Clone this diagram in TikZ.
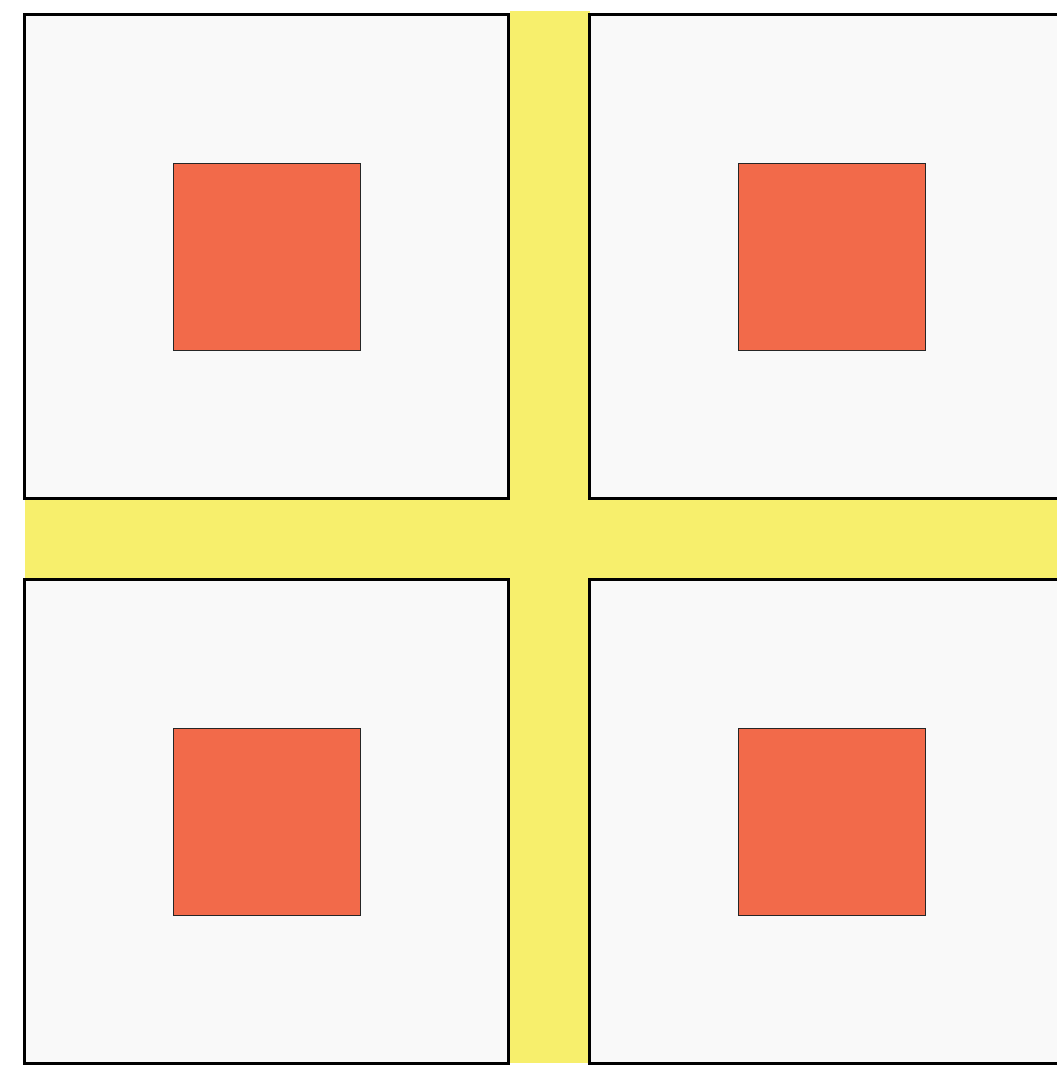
\documentclass[tikz,border=0pt]{standalone}
\definecolor{bandyellow}{HTML}{F7EF6C}
\definecolor{plotgray}{HTML}{F9F9F9}
\definecolor{coreorange}{HTML}{F26A4A}
\tikzset{
  plot/.style={fill=plotgray, draw=black, line width=3pt},
  core/.style={fill=coreorange, draw=black!85, line width=0.9pt},
  band/.style={fill=bandyellow, draw=none}
}
\begin{document}
\begin{tikzpicture}[x=1pt,y=-1pt]
\useasboundingbox (0,0) rectangle (1057,1072);
\clip (0,0) rectangle (1057,1072);
% yellow bands
\fill[band] (510,11) rectangle (590,1063);
\fill[band] (25,498) rectangle (1057,579);
% plots
\foreach \ox/\oy in {0/0, 565/0, 0/565, 565/565}{
  \draw[plot] (24.5+\ox,14.5+\oy) rectangle (508+\ox,498+\oy);
  \draw[core] (173+\ox,163+\oy) rectangle (360+\ox,350+\oy);
}
\end{tikzpicture}
\end{document}
